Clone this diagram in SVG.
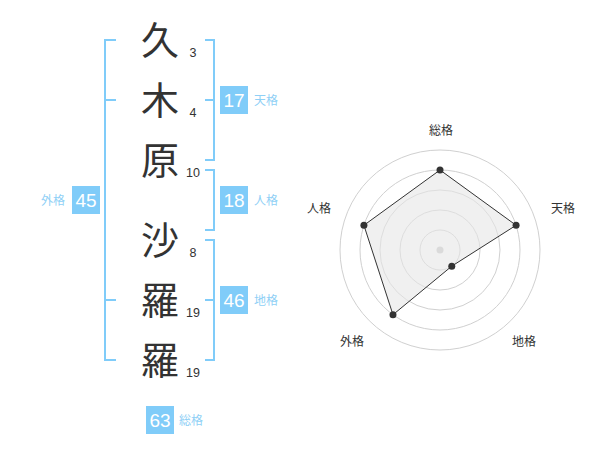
<svg xmlns="http://www.w3.org/2000/svg" width="600" height="470" viewBox="0 0 600 470">
<style>
.kanji{font-family:"Noto Sans CJK JP","Noto Sans CJK SC",sans-serif;font-size:38px;fill:#333;text-anchor:middle}
.num{font-family:"Liberation Sans",Arial,sans-serif;font-size:12.5px;fill:#333;text-anchor:middle}
.br{fill:none;stroke:#80ccf9;stroke-width:2}
.box{fill:#80ccf9}
.bn{font-family:"Liberation Sans",Arial,sans-serif;font-size:19px;fill:#fff;text-anchor:middle}
.bl{font-family:"Noto Sans CJK JP","Noto Sans CJK SC",sans-serif;font-size:12px;fill:#8fd0f6}
.rl{font-family:"Noto Sans CJK JP","Noto Sans CJK SC",sans-serif;font-size:12px;fill:#333;text-anchor:middle}
.ring{fill:none;stroke:#d0d0d0;stroke-width:1}
.pt{fill:#333}
</style>
<rect width="600" height="470" fill="#fff"/>
<g id="name">
<g id="c1"><text class="kanji" x="160" y="54">久</text><text class="num" x="193" y="57">3</text></g>
<g id="c2"><text class="kanji" x="160" y="114">木</text><text class="num" x="193" y="117">4</text></g>
<g id="c3"><text class="kanji" x="160" y="174">原</text><text class="num" x="193" y="177">10</text></g>
<g id="c4"><text class="kanji" x="160" y="254">沙</text><text class="num" x="193" y="257">8</text></g>
<g id="c5"><text class="kanji" x="160" y="314">羅</text><text class="num" x="193" y="317">19</text></g>
<g id="c6"><text class="kanji" x="160" y="374">羅</text><text class="num" x="193" y="377">19</text></g>
</g>
<g id="connectors">
<path class="br" d="M116,40 H105 V360 H116 M105,100 H116 M105,300 H116"/>
<path class="br" d="M205,40 H214 V160 H205 M205,100 H214"/>
<path class="br" d="M205,170 H214 V230 H205"/>
<path class="br" d="M205,240 H214 V360 H205 M205,300 H214"/>
</g>
<g id="tenkaku"><rect class="box" x="220" y="86" width="28" height="28"/><text class="bn" x="234" y="107">17</text><text class="bl" x="254" y="105">天格</text></g>
<g id="jinkaku"><rect class="box" x="220" y="186" width="28" height="28"/><text class="bn" x="234" y="207">18</text><text class="bl" x="254" y="205">人格</text></g>
<g id="chikaku"><rect class="box" x="220" y="286" width="28" height="28"/><text class="bn" x="234" y="307">46</text><text class="bl" x="254" y="305">地格</text></g>
<g id="gaikaku"><rect class="box" x="72" y="186" width="28" height="28"/><text class="bn" x="86" y="207">45</text><text class="bl" x="41" y="205">外格</text></g>
<g id="soukaku"><rect class="box" x="146" y="406" width="28" height="28"/><text class="bn" x="160" y="427">63</text><text class="bl" x="179" y="425">総格</text></g>
<g id="radar">
<circle class="ring" cx="440" cy="250" r="20"/>
<circle class="ring" cx="440" cy="250" r="40"/>
<circle class="ring" cx="440" cy="250" r="60"/>
<circle class="ring" cx="440" cy="250" r="80"/>
<circle class="ring" cx="440" cy="250" r="100"/>
<circle cx="440" cy="250" r="3.5" fill="#c8c8c8"/>
<polygon points="440,170 516.08,225.28 451.76,266.18 392.98,314.72 363.92,225.28" fill="#e6e6e6" fill-opacity="0.6" stroke="#333" stroke-width="1"/>
<circle class="pt" cx="440" cy="170" r="3.5"/>
<circle class="pt" cx="516.08" cy="225.28" r="3.5"/>
<circle class="pt" cx="451.76" cy="266.18" r="3.5"/>
<circle class="pt" cx="392.98" cy="314.72" r="3.5"/>
<circle class="pt" cx="363.92" cy="225.28" r="3.5"/>
<text class="rl" x="441" y="135">総格</text>
<text class="rl" x="563" y="213">天格</text>
<text class="rl" x="524" y="346">地格</text>
<text class="rl" x="352" y="346">外格</text>
<text class="rl" x="319" y="213">人格</text>
</g>
</svg>
